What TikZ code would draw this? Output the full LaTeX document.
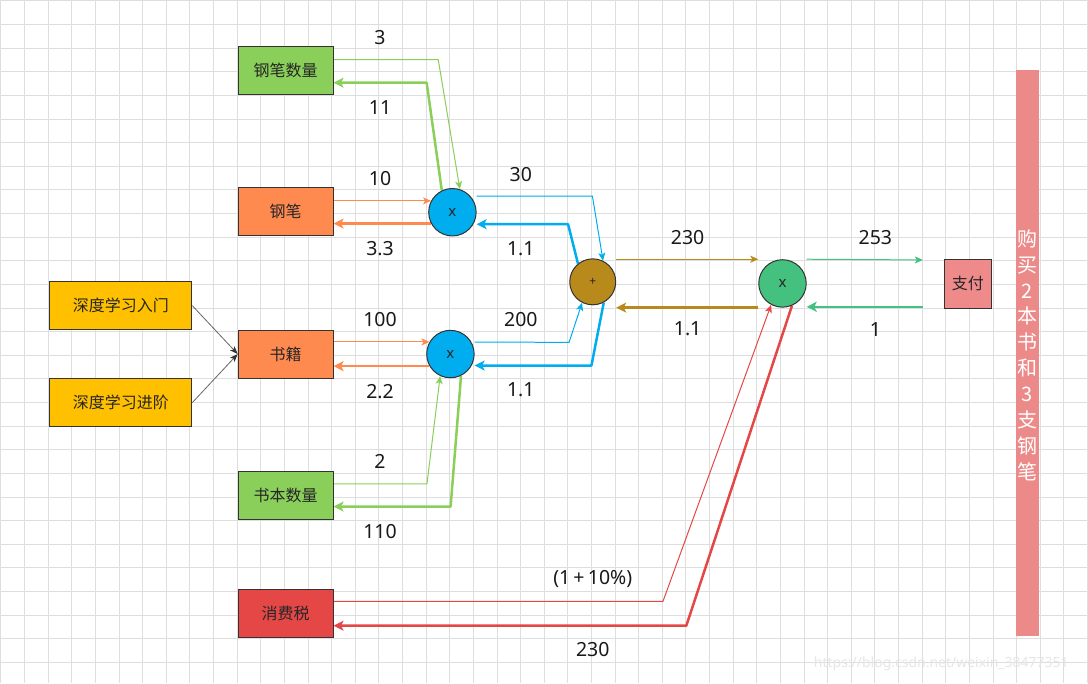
\documentclass[tikz,border=0pt]{standalone}
\usepackage{fontspec}
\setmainfont{Noto Sans}
\newfontfamily\cjk{Noto Sans CJK SC}
\usetikzlibrary{arrows.meta}
\pgfdeclarelayer{bglayer}
\pgfdeclarelayer{edgelayer}
\pgfsetlayers{bglayer,edgelayer,main}
\definecolor{gridc}{HTML}{DEDEDE}
\definecolor{bord}{HTML}{333333}
\definecolor{cgreen}{HTML}{8ACF59}
\definecolor{corange}{HTML}{FF8A50}
\definecolor{cblue}{HTML}{00AEEF}
\definecolor{cgold}{HTML}{B88A1C}
\definecolor{cgreenb}{HTML}{44C17E}
\definecolor{cpay}{HTML}{EE8A8A}
\definecolor{cbar}{HTML}{EC8A8A}
\definecolor{cred}{HTML}{E54747}
\definecolor{cyellow}{HTML}{FFC000}
\definecolor{wm}{HTML}{E6E6E6}
\tikzset{
  boxn/.style={draw=bord, line width=1pt, minimum width=95pt, minimum height=48pt, inner sep=0pt, font=\cjk\fontsize{16}{19}\selectfont, text=black!85},
  circn/.style={circle, draw=bord, line width=1pt, minimum size=47.5pt, inner sep=0pt, font=\fontsize{15}{17}\selectfont, text=black!85},
  lbl/.style={font=\fontsize{19.5}{22}\selectfont, text=black!90, inner sep=0pt},
  thinl/.style={line width=1pt, -{Stealth[length=8pt,width=7pt,inset=2pt]}},
  thickl/.style={line width=2.5pt, line join=round, -{Stealth[length=10pt,width=10pt,inset=2.5pt]}},
}
\begin{document}
\begin{tikzpicture}[x=1pt,y=-1pt]
\begin{pgfonlayer}{bglayer}
\fill[white] (0,0) rectangle (1088,683);
\foreach \i in {0,...,46} \draw[gridc, line width=1pt] (\i*23.65+0.5,0) -- (\i*23.65+0.5,683);
\foreach \j in {0,...,28} \draw[gridc, line width=1pt] (0,\j*23.65+0.5) -- (1088,\j*23.65+0.5);
\end{pgfonlayer}
\useasboundingbox (0,0) rectangle (1088,683);

% watermark
\node[font=\fontsize{14}{16}\selectfont, text=wm] (wmark) at (942,664) {https://blog.csdn.net/weixin\_38477351};

% boxes
\node[boxn, fill=cgreen] (pensnum) at (285.5,70) {钢笔数量};
\node[boxn, fill=corange] (pen) at (285.5,211) {钢笔};
\node[boxn, fill=corange] (book) at (285.5,354) {书籍};
\node[boxn, fill=cgreen] (booknum) at (285.5,496) {书本数量};
\node[boxn, fill=cred] (tax) at (285.5,614) {消费税};
\node[boxn, fill=cyellow, minimum width=142pt, minimum height=47.5pt] (dl1) at (120.5,305.5) {深度学习入门};
\node[boxn, fill=cyellow, minimum width=142pt, minimum height=47.5pt] (dl2) at (120.5,402.7) {深度学习进阶};
\node[boxn, fill=cpay, minimum width=47pt, minimum height=49pt] (pay) at (968.5,283.8) {支付};

% circles
\node[circn, fill=cblue] (m1) at (452.5,212) {x};
\node[circn, fill=cblue] (m2) at (450.5,354) {x};
\node[circn, fill=cgold, minimum size=46pt, font=\fontsize{12}{14}\selectfont] (plus) at (593,281.7) {+};
\node[circn, fill=cgreenb] (m3) at (783,283.3) {x};

% side bar
\node[fill=cbar, minimum width=23.3pt, minimum height=566pt, inner sep=0pt] (bar) at (1028.3,353) {};
\node[text=white, font=\cjk\fontsize{20}{25.9}\selectfont, align=center, inner sep=0pt] (bartext) at (1028.3,355) {购\\买\\2\\本\\书\\和\\3\\支\\钢\\笔};

% free ends
\coordinate (e1) at (923.5,259.8);
\coordinate (e2) at (923.5,306.7);

\begin{pgfonlayer}{edgelayer}
% inputs to book
\draw[line width=0.8pt, black!60, -{Stealth[length=8pt,width=6pt,inset=2pt,black!80]}] (dl1.east) -- (book.west);
\draw[line width=0.8pt, black!60, -{Stealth[length=8pt,width=6pt,inset=2pt,black!80]}] (dl2.east) -- (book.west);

% pen count
\draw[thinl, cgreen] ([yshift=10.7pt]pensnum.east) -- (438.3,59.3) -- (m1.72);
\draw[thickl, cgreen] (m1.116) -- (426.7,82.3) -- ([yshift=-12.3pt]pensnum.east);
% pen
\draw[thinl, corange] (pen.east |- m1.152) -- (m1.152);
\draw[thickl, corange] (m1.208) -- (pen.east |- m1.208);
% book
\draw[thinl, corange] (book.east |- m2.150) -- (m2.150);
\draw[thickl, corange] (m2.210) -- (book.east |- m2.210);
% book count
\draw[thinl, cgreen] ([yshift=12pt]booknum.east) -- (427,484) -- (m2.245);
\draw[thickl, cgreen] (m2.-64) -- (450.7,506.7) -- ([yshift=-10.7pt]booknum.east);
% to plus
\draw[thinl, cblue] ([yshift=16pt]m1.east) -- (592.7,196) -- (plus.64);
\draw[thickl, cblue] (plus.129) -- (568.3,224) -- ([yshift=-12pt]m1.east);
\draw[thinl, cblue] ([yshift=12pt]m2.east) -- (569.3,342.3) -- (plus.-117);
\draw[thickl, cblue] (plus.-62) -- (591.7,365.5) -- ([yshift=-11.5pt]m2.east);
% plus to m3
\draw[thinl, cgold] (plus.east |- m3.north) -- (m3.west |- m3.north);
\draw[thickl, cgold] (m3.west |- m3.south) -- (plus.east |- m3.south);
% m3 to pay
\draw[thinl, cgreenb] (m3.east |- m3.north) -- (e1);
\draw[thickl, cgreenb] (e2) -- (m3.east |- e2);
% tax
\draw[thinl, cred] ([yshift=12.3pt]tax.east) -- (663.3,601.7) -- (m3.-118);
\draw[thickl, cred] (m3.-67) -- (686.7,626) -- ([yshift=-12pt]tax.east);
\end{pgfonlayer}

% labels
\node[lbl] (l3) at (380,37) {3};
\node[lbl] (l11) at (380,107) {11};
\node[lbl] (l10) at (380,178) {10};
\node[lbl] (l33) at (380,248) {3.3};
\node[lbl] (l100) at (380,319) {100};
\node[lbl] (l22) at (380,392) {2.2};
\node[lbl] (l2) at (380,462) {2};
\node[lbl] (l110) at (380,532) {110};
\node[lbl] (l30) at (521,174) {30};
\node[lbl] (l11a) at (521,249) {1.1};
\node[lbl] (l200) at (521,319) {200};
\node[lbl] (l11b) at (521,390) {1.1};
\node[lbl] (l230) at (688,237) {230};
\node[lbl] (l11c) at (688,329) {1.1};
\node[lbl] (l253) at (876,237) {253};
\node[lbl] (l1) at (876,329) {1};
\node[lbl] (ltax) at (593,579) {(1\,+\,10\%)};
\node[lbl] (l230b) at (593,650) {230};
\end{tikzpicture}
\end{document}
